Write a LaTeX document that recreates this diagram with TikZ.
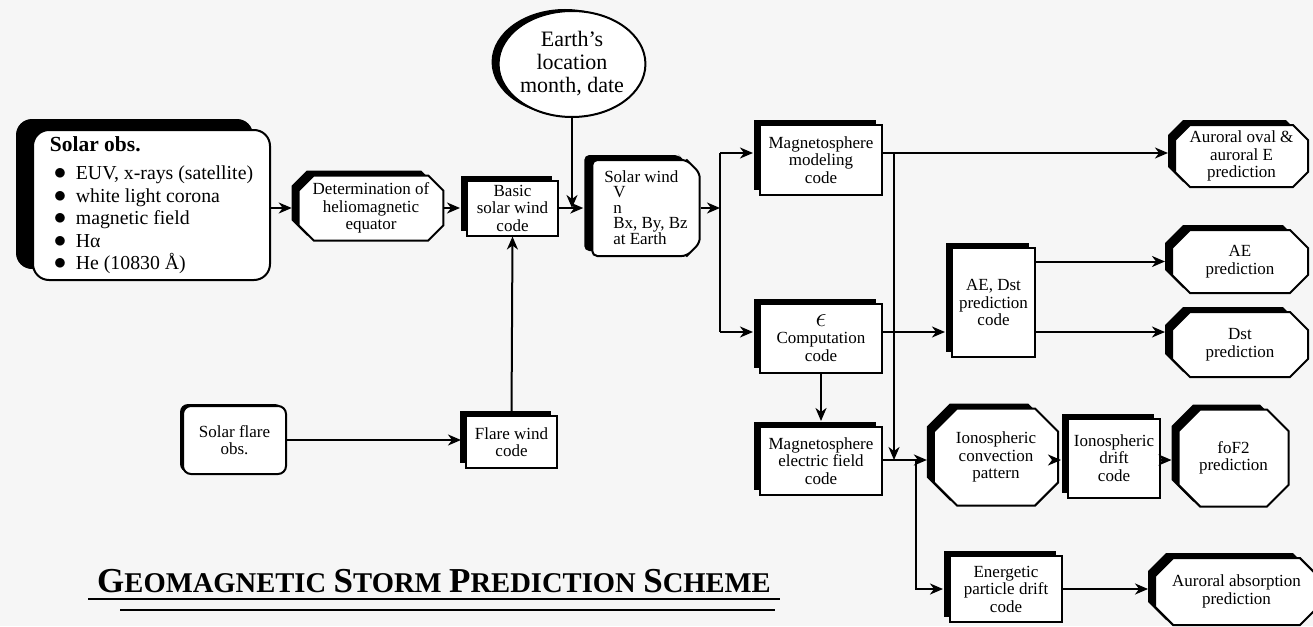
\documentclass[tikz,border=0pt]{standalone}
\usepackage{fontspec}
\setmainfont{Liberation Serif}
\usetikzlibrary{arrows.meta,shapes.misc,shapes.geometric,shadows}
\definecolor{pBack}{gray}{0.965}
\newcommand\bxfont{\fontsize{17}{17.5}\selectfont}
\newcommand\scap[2]{{\fontsize{35}{35}\selectfont #1}{\fontsize{28.6}{28}\selectfont #2}}
\newcommand\obsitem{\hspace*{4pt}\makebox[22pt][l]{\scalebox{1.2}{$\bullet$}}}
\tikzset{
    shd/.style 2 args={general shadow={fill=black, shadow xshift=#1, shadow yshift=#2}},
    box/.style={draw, line width=2pt, fill=white, align=center, font=\bxfont, inner sep=2pt},
    code/.style={box, rectangle, shd={-6pt}{5pt}},
    pred/.style={box, chamfered rectangle, chamfered rectangle xsep=#1, shd={-7pt}{5pt}},
    pred/.default=12pt,
    arr/.style={line width=2pt, -{Stealth[length=13pt,width=11pt,inset=4pt]}},
    into/.style={arr, shorten >=6pt},
    link/.style={line width=2pt}
}

\begin{document}
\begin{tikzpicture}[x=1pt,y=1pt]
\fill[pBack] (0,0) rectangle (1313,-626);
\useasboundingbox (0,0) rectangle (1313,-626);

% inputs
\node[box, rounded corners=16pt, shd={-17pt}{11pt}, align=left, font=\fontsize{19.8}{22.5}\selectfont,
      minimum width=237pt, minimum height=150pt] (solarobs) at (151.5,-205)
  {{\fontsize{21.5}{22.5}\selectfont\bfseries Solar obs.}\\[6pt]
   \obsitem EUV, x-rays (satellite)\\
   \obsitem white light corona\\
   \obsitem magnetic field\\
   \obsitem Hα\\
   \obsitem He (10830 Å)};
\node[box, rounded corners=8pt, shd={-3pt}{2pt}, minimum width=103pt, minimum height=68pt]
  (flareobs) at (234.5,-440) {Solar flare\\obs.};
\node[box, ellipse, shd={-7pt}{2pt}, font=\fontsize{22}{23}\selectfont, inner sep=0pt,
      minimum width=136pt, minimum height=106pt] (earth) at (572,-64) {Earth's\\location\\month, date};

% solar wind chain
\node[pred, minimum width=132pt, minimum height=65pt] (detm) at (371,-208)
  {Determination of\\heliomagnetic\\equator};
\node[code, minimum width=91pt, minimum height=55pt] (basic) at (512.5,-208) {Basic\\solar wind\\code};
\node[code, minimum width=91pt, minimum height=52pt] (flarewind) at (511.5,-442) {Flare wind\\code};
\node[box, chamfered rectangle, chamfered rectangle corners={north east,south east},
      chamfered rectangle xsep=10pt, rounded corners=5pt, shd={-8pt}{5pt}, align=left,
      font=\fontsize{17}{15.2}\selectfont, minimum width=92pt, minimum height=96pt] (sw) at (646,-208)
  {Solar wind\\ \hspace*{9pt}V\\ \hspace*{9pt}n\\ \hspace*{9pt}Bx, By, Bz\\ \hspace*{9pt}at Earth};

% magnetosphere codes
\node[code, minimum width=122pt, minimum height=70pt] (magmod) at (821,-160) {Magnetosphere\\modeling\\code};
\node[code, minimum width=122pt, minimum height=69pt] (comp) at (821,-338) {\scalebox{1.6}{$\epsilon$}\\Computation\\code};
\node[code, minimum width=122pt, minimum height=68pt] (elec) at (821,-461) {Magnetosphere\\electric field\\code};
\node[code, minimum width=83pt, minimum height=109pt] (aedst) at (993.5,-302.5) {AE, Dst\\prediction\\code};
\node[code, minimum width=92pt, minimum height=79pt] (iondrift) at (1114,-458) {Ionospheric\\drift\\code};
\node[code, minimum width=112pt, minimum height=66pt] (energ) at (1006,-589) {Energetic\\particle drift\\code};

% predictions
\node[pred, minimum width=133pt, minimum height=62pt] (aurE) at (1241.5,-156) {Auroral oval \&\\auroral E\\prediction};
\node[pred=15pt, minimum width=136pt, minimum height=63pt] (ae) at (1240,-261.5) {AE\\prediction};
\node[pred=15pt, minimum width=136pt, minimum height=65pt] (dst) at (1240,-344.5) {Dst\\prediction};
\node[pred=20pt, minimum width=92pt, minimum height=97pt] (ionconv) at (996,-457) {Ionospheric\\convection\\pattern};
\node[pred=22pt, minimum width=93pt, minimum height=97pt] (fof2) at (1233.5,-458) {foF2\\prediction};
\node[pred=15pt, minimum width=143pt, minimum height=67pt] (auabs) at (1236.5,-591.5) {Auroral absorption\\prediction};

% branch points
\coordinate (jA) at (720,-208);
\coordinate (jAt) at (720,-153);
\coordinate (jAb) at (720,-332);
\coordinate (jB) at (894,-153);
\coordinate (jC) at (916,-460);

% connectors
\draw[into] (solarobs.east |- detm.west) -- (detm.west);
\draw[into] (detm.east) -- (basic.west);
\draw[into, shorten >=8pt] (basic.east) -- (sw.west);
\draw[arr] (earth.south) -- (earth.south |- basic.east);
\draw[into, shorten >=4pt] (flareobs.east) -- (flareobs.east -| flarewind.west);
\draw[arr] (flarewind.north) -- (basic.south);
\draw[arr] (sw.east) -- (jA);
\draw[link] (jAt) -- (jAb);
\draw[into] (jAt) -- (jAt -| magmod.west);
\draw[into] (jAb) -- (jAb -| comp.west);
\draw[into] (magmod.east |- jAt) -- (jAt -| aurE.west);
\draw[arr] (jB) -- (jB |- jC);
\draw[into] (comp.east |- jAb) -- (jAb -| aedst.west);
\draw[arr, shorten >=5pt] (comp.south) -- (elec.north);
\draw[into] (elec.east |- jC) -- (jC -| ionconv.west);
\draw[into] (jC) |- (energ.west);
\draw[into] (aedst.east |- ae.west) -- (ae.west);
\draw[into] (aedst.east |- jAb) -- (jAb -| dst.west);
\draw[into] (ionconv.east |- jC) -- (jC -| iondrift.west);
\draw[into] (iondrift.east |- jC) -- (jC -| fof2.west);
\draw[into] (energ.east) -- (energ.east -| auabs.west);

% title
\node[anchor=base west, inner sep=0pt, font=\bfseries\fontsize{30}{35}\selectfont] (title) at (97,-592)
  {\scap{G}{EOMAGNETIC} \scap{S}{TORM} \scap{P}{REDICTION} \scap{S}{CHEME}};
\draw[line width=1.3pt] (88,-599) -- (780,-599);
\draw[line width=1.3pt] (120,-610) -- (775,-610);
\end{tikzpicture}
\end{document}
